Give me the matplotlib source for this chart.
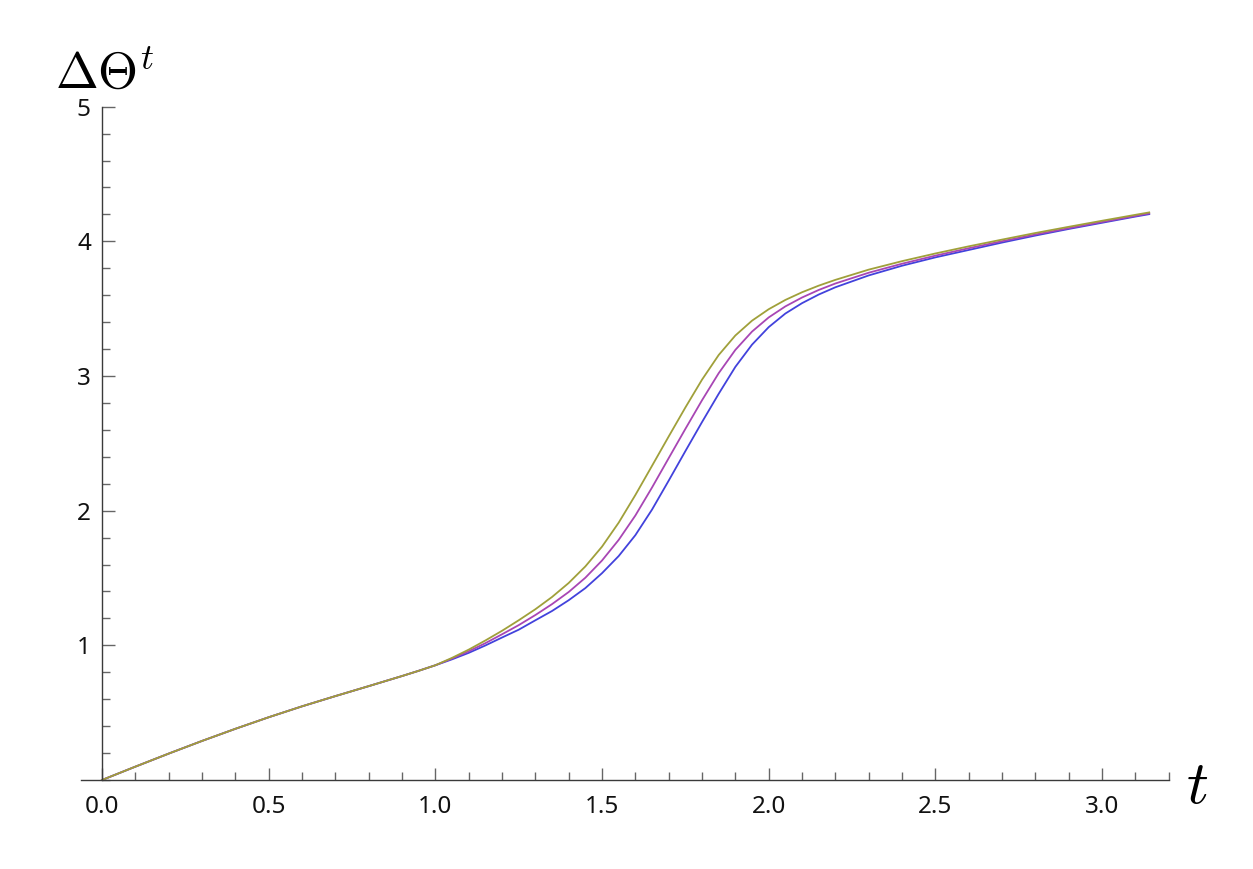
import matplotlib.pyplot as plt
import numpy as np
from matplotlib.ticker import MultipleLocator, FixedLocator

# values
t = [0.0, 0.1, 0.2, 0.3, 0.4, 0.5, 0.6, 0.7, 0.8, 0.9, 0.95, 1.0,
     1.05, 1.1, 1.15, 1.2, 1.25, 1.3, 1.35, 1.4, 1.45, 1.5, 1.55, 1.6,
     1.65, 1.7, 1.75, 1.8, 1.85, 1.9, 1.95, 2.0, 2.05, 2.1, 2.15, 2.2,
     2.3, 2.4, 2.5, 2.6, 2.7, 2.8, 2.9, 3.0, 3.1, 3.1416]

theta_blue = [0.0, 0.099, 0.196, 0.29, 0.38, 0.466, 0.547, 0.623, 0.697, 0.772, 0.811, 0.852,
              0.896, 0.944, 0.999, 1.058, 1.116, 1.186, 1.255, 1.335, 1.425, 1.536, 1.663, 1.818,
              2.008, 2.223, 2.442, 2.658, 2.868, 3.068, 3.233, 3.363, 3.464, 3.541, 3.605, 3.659,
              3.747, 3.819, 3.881, 3.936, 3.991, 4.043, 4.092, 4.138, 4.184, 4.202]

theta_purple = [0.0, 0.099, 0.196, 0.29, 0.38, 0.466, 0.547, 0.623, 0.697, 0.772, 0.811, 0.852,
                0.902, 0.956, 1.016, 1.082, 1.150, 1.225, 1.306, 1.396, 1.502, 1.630, 1.783, 1.964,
                2.172, 2.390, 2.607, 2.820, 3.021, 3.194, 3.330, 3.435, 3.517, 3.583, 3.639, 3.687,
                3.767, 3.834, 3.894, 3.949, 4.001, 4.051, 4.098, 4.144, 4.189, 4.208]

theta_olive = [0.0, 0.099, 0.196, 0.29, 0.38, 0.466, 0.547, 0.623, 0.697, 0.772, 0.811, 0.852,
               0.907, 0.968, 1.036, 1.108, 1.186, 1.268, 1.359, 1.463, 1.586, 1.733, 1.911, 2.116,
               2.333, 2.551, 2.766, 2.973, 3.156, 3.301, 3.411, 3.496, 3.565, 3.622, 3.671, 3.714,
               3.79, 3.853, 3.91, 3.963, 4.013, 4.062, 4.108, 4.153, 4.197, 4.215]

x_ticks = [0.0, 0.5, 1.0, 1.5, 2.0, 2.5, 3.0]
x_labels = ['0.0', '0.5', '1.0', '1.5', '2.0', '2.5', '3.0']
y_ticks = [1, 2, 3, 4, 5]

plt.rcParams['mathtext.fontset'] = 'cm'

fig = plt.figure(figsize=(12.53, 8.69), dpi=100)
ax = fig.add_axes([81 / 1253, 89 / 869, 1087.7 / 1253, 673.3 / 869])

ax.plot(t, theta_blue, color='#4242dc', lw=1.3, solid_joinstyle='round')
ax.plot(t, theta_purple, color='#a846b4', lw=1.3, solid_joinstyle='round')
ax.plot(t, theta_olive, color='#a0a03a', lw=1.3, solid_joinstyle='round')

ax.set_xlim(-0.063, 3.2)
ax.set_ylim(0, 5)

for side in ['top', 'right']:
    ax.spines[side].set_visible(False)
ax.spines['left'].set_position(('data', 0))
ax.spines['bottom'].set_position(('data', 0))
for side in ['left', 'bottom']:
    ax.spines[side].set_color('#3a3a3a')
    ax.spines[side].set_linewidth(1.0)

ax.xaxis.set_major_locator(FixedLocator(x_ticks))
ax.set_xticklabels(x_labels)
ax.xaxis.set_minor_locator(MultipleLocator(0.1))
ax.yaxis.set_major_locator(FixedLocator(y_ticks))
ax.yaxis.set_minor_locator(MultipleLocator(0.2))

ax.tick_params(which='major', direction='in', length=9, width=1.0, color='#666666',
               labelsize=17.5, labelcolor='#111111')
ax.tick_params(which='minor', direction='in', length=5.5, width=1.0, color='#666666')
ax.tick_params(axis='x', which='major', pad=11)
ax.tick_params(axis='y', which='major', pad=8)
for lab in ax.get_xticklabels() + ax.get_yticklabels():
    lab.set_family('Noto Sans')

fig.text(55 / 1253, 1 - 88 / 869, r'$\Delta\Theta^t$', fontsize=37, ha='left', va='baseline')
fig.text(1186 / 1253, 1 - 803 / 869, r'$t$', fontsize=44, ha='left', va='baseline')

plt.savefig('out.png', dpi=100)
